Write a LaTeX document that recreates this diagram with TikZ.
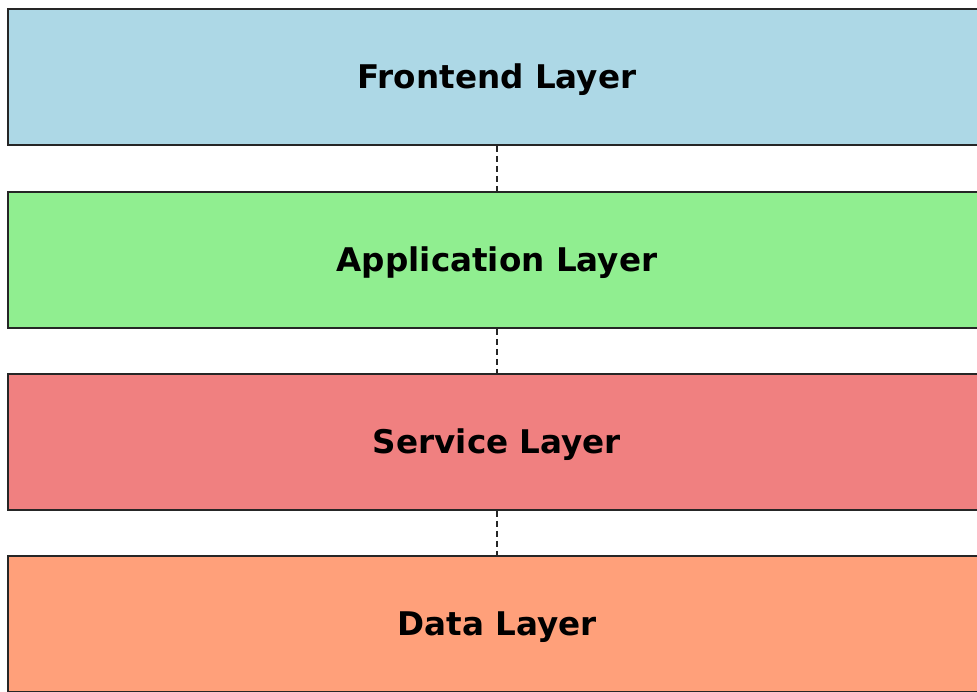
\documentclass[tikz,border=0pt]{standalone}
\usepackage{fontspec}
\setmainfont{DejaVu Sans}
\begin{document}
\begin{tikzpicture}[x=1pt,y=-1pt,
  layer/.style={draw=black!85, line width=1.8pt, minimum width=978pt, minimum height=136pt, inner sep=0pt, text height=26pt, text depth=4pt, font=\fontsize{32.6}{38}\selectfont\bfseries, text=black},
  link/.style={draw=black!85, line width=1.5pt, dash pattern=on 6pt off 4pt}]
\clip (0,0) rectangle (977,691);
\fill[white] (0,0) rectangle (977,691);
\definecolor{cblue}{HTML}{ADD8E6}
\definecolor{cgreen}{HTML}{90EE90}
\definecolor{cred}{HTML}{F08080}
\definecolor{corange}{HTML}{FFA07A}
\node[layer, fill=cblue] (fe) at (497,77) {Frontend Layer};
\node[layer, fill=cgreen] (app) at (497,260) {Application Layer};
\node[layer, fill=cred] (svc) at (497,442) {Service Layer};
\node[layer, fill=corange] (data) at (497,624) {Data Layer};
\draw[link] (fe.south) -- (app.north);
\draw[link] (app.south) -- (svc.north);
\draw[link] (svc.south) -- (data.north);
\end{tikzpicture}
\end{document}
